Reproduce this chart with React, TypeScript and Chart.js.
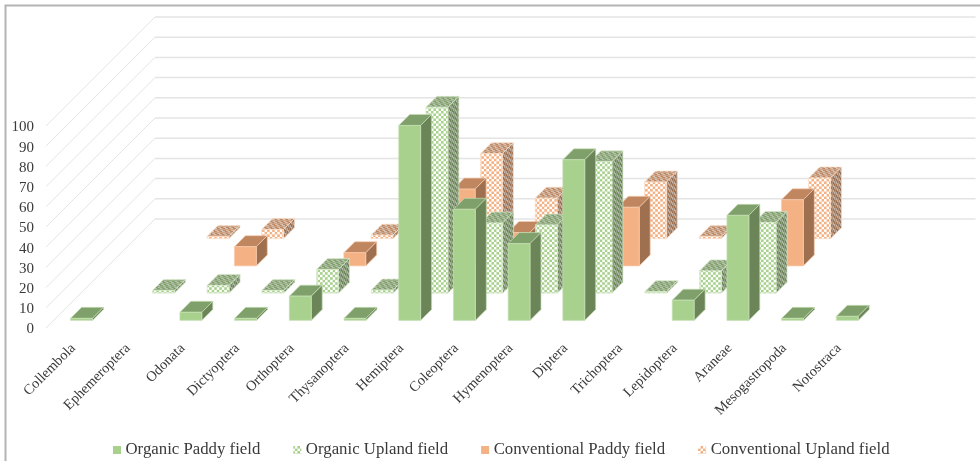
import React, { useEffect, useRef } from "react";
import { Chart, registerables, BarController } from "chart.js";

Chart.register(...registerables);

const categories = [
  "Collembola", "Ephemeroptera", "Odonata", "Dictyoptera", "Orthoptera",
  "Thysanoptera", "Hemiptera", "Coleoptera", "Hymenoptera", "Diptera",
  "Trichoptera", "Lepidoptera", "Araneae", "Mesogastropoda", "Notostraca",
];
const organicPaddy = [1, 0, 4, 1, 12, 1, 96.5, 55, 38, 79.5, 0, 10, 52, 1, 2];
const organicUpland = [0, 1.3, 3.8, 1.3, 11.7, 1.5, 92, 34.7, 33.7, 65, 0.7, 11, 35, 0, 0];
const conventionalPaddy = [0, 0, 9.5, 0, 6.5, 0, 38, 16.5, 0, 29, 0, 0, 32.7, 0, 0];
const conventionalUpland = [0, 1, 4.5, 0, 1.7, 0, 42, 20, 0, 28, 1, 0, 30, 0, 0];

const FONT = '"Liberation Serif", serif';
const TEXT = "#3A3A3A";
const WALL_DEPTH = 109;
const BAR_DEPTH = 11;
const ROW_STEP = WALL_DEPTH / 4;
const WALL_LIFT = 1.5;
const BAR_LIFT = 1;

type Faces = { front: any; top: any; side: any; edge: string };

// Checkered swatch drawn at 6px and scaled down, optionally sheared onto a receding face.
function checker(ctx: CanvasRenderingContext2D, dark: string, light: string, m: number[]) {
  const c = document.createElement("canvas");
  c.width = 6;
  c.height = 6;
  const g = c.getContext("2d")!;
  g.fillStyle = dark;
  g.fillRect(0, 0, 6, 6);
  g.fillStyle = light;
  g.fillRect(0, 0, 3, 3);
  g.fillRect(3, 3, 3, 3);
  const p = ctx.createPattern(c, "repeat")!;
  p.setTransform(new DOMMatrix(m));
  return p;
}

const FRONT_SCALE = [0.84, 0, 0, 0.84, 0, 0];
const SIDE_SHEAR = [0.5, -0.5, 0, 0.9, 0, 0];
const TOP_SHEAR = [0.9, 0, -0.5, 0.5, 0, 0];

function buildFaces(ctx: CanvasRenderingContext2D): Faces[] {
  return [
    { front: "#A9D18E", top: "#7F9F6B", side: "#6B8559", edge: "#C5E0B4" },
    {
      front: checker(ctx, "#A9D18E", "#FFFFFF", FRONT_SCALE),
      top: checker(ctx, "#7F9F6B", "#B4C2A9", TOP_SHEAR),
      side: checker(ctx, "#6B8559", "#ACB8A2", SIDE_SHEAR),
      edge: "#D5E8C8",
    },
    { front: "#F4B183", top: "#BF8660", side: "#9E7050", edge: "#F8CBAD" },
    {
      front: checker(ctx, "#F4B183", "#FFFFFF", FRONT_SCALE),
      top: checker(ctx, "#BF8660", "#D6C2B3", TOP_SHEAR),
      side: checker(ctx, "#9E7050", "#C2B1A4", SIDE_SHEAR),
      edge: "#FADCC6",
    },
  ];
}

let faceSets: Faces[] = [];

// Bar controller that paints each element as a box set back on its own depth row.
class Bar3DController extends BarController {
  static id = "bar3d";
  static defaults = BarController.defaults;
  static overrides = BarController.overrides;

  draw() {
    const ctx = this.chart.ctx;
    const row = this.index;
    const faces = faceSets[row];
    const shift = (row + 0.5) * ROW_STEP - BAR_DEPTH / 2;
    const d = BAR_DEPTH;
    const shape = (pts: number[][], fill: any) => {
      ctx.beginPath();
      pts.forEach(([x, y], i) => (i ? ctx.lineTo(x, y) : ctx.moveTo(x, y)));
      ctx.closePath();
      ctx.fillStyle = fill;
      ctx.fill();
      ctx.strokeStyle = faces.edge;
      ctx.lineWidth = 0.7;
      ctx.stroke();
    };
    this.getMeta().data.forEach((el: any, i: number) => {
      if (!this.getDataset().data[i]) return;
      const { x, y, base, width } = el.getProps(["x", "y", "base", "width"], true);
      const l = x - width / 2 + shift;
      const r = l + width;
      const t = y - shift - BAR_LIFT;
      const b = base - shift - BAR_LIFT;
      shape([[l, t], [r, t], [r + d, t - d], [l + d, t - d]], faces.top);
      shape([[r, t], [r + d, t - d], [r + d, b - d], [r, b]], faces.side);
      shape([[l, t], [r, t], [r, b], [l, b]], faces.front);
    });
  }
}
Chart.register(Bar3DController);

// Frame, receding side wall and back wall gridlines.
const wallPlugin = {
  id: "wall",
  beforeDatasetsDraw(chart: any) {
    const { ctx, scales } = chart;
    const { left, right } = chart.chartArea;
    ctx.save();
    ctx.strokeStyle = "#B4B4B4";
    ctx.lineWidth = 2;
    ctx.beginPath();
    ctx.moveTo(5.5, chart.height);
    ctx.lineTo(5.5, 5.5);
    ctx.lineTo(chart.width, 5.5);
    ctx.stroke();
    scales.y.ticks.forEach((t: any) => {
      const y = scales.y.getPixelForValue(t.value) - WALL_LIFT;
      ctx.strokeStyle = "#E4E4E4";
      ctx.lineWidth = 1;
      ctx.beginPath();
      ctx.moveTo(left, y);
      ctx.lineTo(left + WALL_DEPTH, y - WALL_DEPTH);
      ctx.stroke();
      ctx.lineWidth = 1.5;
      ctx.beginPath();
      ctx.moveTo(left + WALL_DEPTH, y - WALL_DEPTH);
      ctx.lineTo(right + WALL_DEPTH, y - WALL_DEPTH);
      ctx.stroke();
    });
    ctx.restore();
  },
};

// Legend row along the bottom of the canvas.
const keyPlugin = {
  id: "key",
  afterDraw(chart: any) {
    const { ctx } = chart;
    ctx.save();
    ctx.font = `16.8px ${FONT}`;
    ctx.textBaseline = "middle";
    ctx.textAlign = "left";
    let x = 113;
    chart.data.datasets.forEach((ds: any, i: number) => {
      ctx.fillStyle = faceSets[i].front;
      ctx.fillRect(x, 446, 8, 8);
      ctx.fillStyle = TEXT;
      ctx.fillText(ds.label, x + 12.5, 450);
      x += 12.5 + ctx.measureText(ds.label).width + 33;
    });
    ctx.restore();
  },
};

export default function App() {
  const ref = useRef<HTMLCanvasElement>(null);
  useEffect(() => {
    document.body.style.margin = "0";
    const ctx = ref.current!.getContext("2d")!;
    faceSets = buildFaces(ctx);
    const series: [string, number[]][] = [
      ["Organic Paddy field", organicPaddy],
      ["Organic Upland field", organicUpland],
      ["Conventional Paddy field", conventionalPaddy],
      ["Conventional Upland field", conventionalUpland],
    ];
    const chart = new Chart(ctx, {
      type: "bar3d" as any,
      data: {
        labels: categories,
        datasets: series.map(([label, data]) => ({
          label,
          data,
          grouped: false,
          clip: false,
          barPercentage: 0.4,
          categoryPercentage: 1,
        })) as any,
      },
      options: {
        animation: false,
        responsive: false,
        layout: { padding: { top: 127.5, right: 113.5, bottom: 31.5, left: 0 } },
        plugins: { legend: { display: false }, tooltip: { enabled: false } },
        scales: {
          x: {
            type: "category",
            grid: { display: false, drawTicks: false },
            border: { display: false },
            afterFit: (s: any) => { s.height = 100; },
            ticks: {
              autoSkip: false,
              minRotation: 45,
              maxRotation: 45,
              padding: 10.5,
              color: TEXT,
              font: { family: FONT, size: 14.3 },
            },
          },
          y: {
            min: 0,
            max: 100,
            grid: { display: false, drawTicks: false },
            border: { display: false },
            afterFit: (s: any) => { s.width = 46; },
            ticks: {
              autoSkip: false,
              stepSize: 10,
              padding: 12,
              color: TEXT,
              font: { family: FONT, size: 15 },
            },
          },
        },
      },
      plugins: [wallPlugin, keyPlugin],
    } as any);
    return () => chart.destroy();
  }, []);
  return <canvas ref={ref} width={980} height={461} style={{ display: "block" }} />;
}
